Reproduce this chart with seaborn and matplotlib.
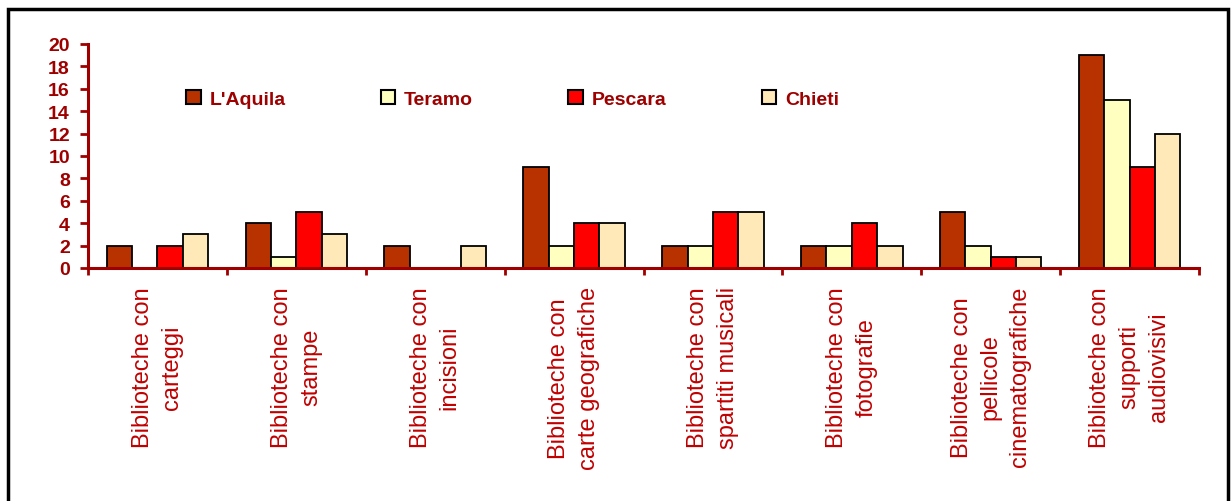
import matplotlib
matplotlib.use("Agg")
import matplotlib.pyplot as plt
import matplotlib.patches as mpatches
from matplotlib.ticker import FixedLocator
import seaborn as sns
import pandas as pd

categories = [
    "Biblioteche con\ncarteggi",
    "Biblioteche con\nstampe",
    "Biblioteche con\nincisioni",
    "Biblioteche con\ncarte geografiche",
    "Biblioteche con\nspartiti musicali",
    "Biblioteche con\nfotografie",
    "Biblioteche con\npellicole\ncinematografiche",
    "Biblioteche con\nsupporti\naudiovisivi",
]
provinces = ["L'Aquila", "Teramo", "Pescara", "Chieti"]
laquila = [2, 4, 2, 9, 2, 2, 5, 19]
teramo = [0, 1, 0, 2, 2, 2, 2, 15]
pescara = [2, 5, 0, 4, 5, 4, 1, 9]
chieti = [3, 3, 2, 4, 5, 2, 1, 12]
yticks = list(range(0, 21, 2))

colors = ["#B83200", "#FFFFC0", "#FF0000", "#FFE9B8"]
dark_red = "#9E0000"
label_red = "#C00000"

rows = []
for prov, vals in zip(provinces, [laquila, teramo, pescara, chieti]):
    for c, v in zip(categories, vals):
        rows.append({"cat": c, "prov": prov, "val": v})
df = pd.DataFrame(rows)

sns.set_theme(style="white")
plt.rcParams["font.family"] = ["Liberation Sans", "DejaVu Sans"]

fig = plt.figure(figsize=(12.31, 5.02), dpi=100)
ax = fig.add_axes([88 / 1231, 1 - 269 / 502, (1199 - 88) / 1231, (269 - 45) / 502])

sns.barplot(data=df, x="cat", y="val", hue="prov", hue_order=provinces,
            order=categories, palette=colors, width=0.73, gap=0,
            edgecolor="black", linewidth=1.3, saturation=1, ax=ax)

ax.set_xlim(-0.5, len(categories) - 0.5)
ax.set_ylim(0, 20)
ax.set_yticks(yticks)
ax.set_xlabel("")
ax.set_ylabel("")

for s in ["top", "right"]:
    ax.spines[s].set_visible(False)
for s in ["left", "bottom"]:
    ax.spines[s].set_color(dark_red)
    ax.spines[s].set_linewidth(2.2)

ax.tick_params(axis="y", which="major", direction="out", length=6, width=2,
               color=dark_red, labelcolor=dark_red, labelsize=14, pad=7, left=True)
for t in ax.get_yticklabels():
    t.set_fontweight("bold")

ax.xaxis.set_minor_locator(FixedLocator([i - 0.5 for i in range(len(categories) + 1)]))
ax.tick_params(axis="x", which="minor", direction="out", length=5, width=2,
               color=dark_red, bottom=True)
ax.tick_params(axis="x", which="major", length=0, pad=13, labelcolor=label_red,
               labelsize=17)
for t in ax.get_xticklabels():
    t.set_rotation(90)
    t.set_ha("center")
    t.set_va("top")
    t.set_multialignment("center")
    t.set_linespacing(1.42)

handles, labels = ax.get_legend_handles_labels()
leg = ax.legend(handles, labels, ncol=4, loc="center left",
                bbox_to_anchor=((186 - 88) / 1111, (269 - 100) / 224),
                frameon=False, borderpad=0, borderaxespad=0,
                handlelength=0.75, handleheight=0.75, handletextpad=0.45,
                columnspacing=4.9, prop={"weight": "bold", "size": 14})
for t in leg.get_texts():
    t.set_color(dark_red)
for h in leg.legend_handles:
    h.set_edgecolor("black")
    h.set_linewidth(1.5)

border = mpatches.Rectangle((7.5 / 1231, -0.05), (1228 - 7.5) / 1231, 1.05 - 9.5 / 502,
                            transform=fig.transFigure, fill=False,
                            edgecolor="black", linewidth=2.5, clip_on=False)
fig.patches.append(border)

fig.savefig("out.png", dpi=100)
